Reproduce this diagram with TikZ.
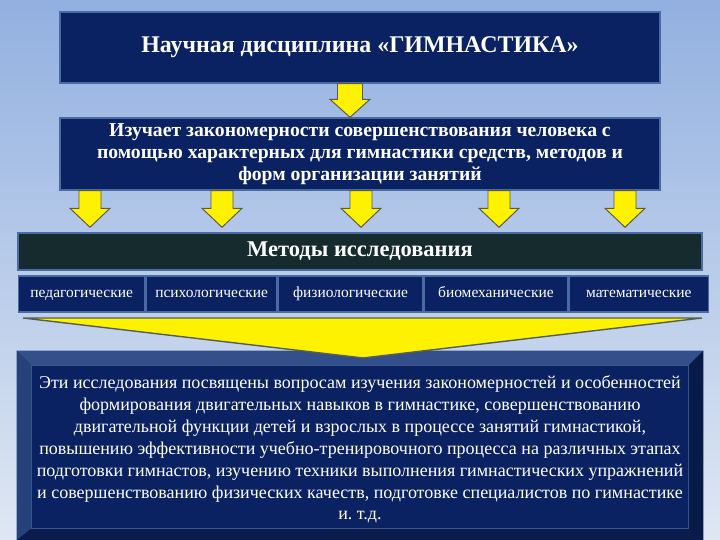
\documentclass[tikz,border=0pt]{standalone}
\usepackage{fontspec}
\setmainfont{Liberation Serif}
\usetikzlibrary{positioning,calc}
\tikzset{>=latex}

\definecolor{navy}{HTML}{0B2262}
\definecolor{rim}{HTML}{4A6AA2}
\definecolor{darkteal}{HTML}{152B2E}
\definecolor{bgtop}{HTML}{92B0E0}
\definecolor{bgbot}{HTML}{DFE7F3}
\definecolor{arrowrim}{HTML}{5A5A48}
\definecolor{bevtop}{HTML}{34508A}
\definecolor{bevleft}{HTML}{26427A}
\definecolor{bevright}{HTML}{081A47}
\definecolor{bevbot}{HTML}{0A1B4C}

\tikzset{
  box/.style={draw=rim, line width=1pt, fill=navy, text=white, inner sep=0pt, align=center},
  method/.style={box, minimum height=0.9cm, text height=1.5ex, text depth=0.3ex, font=\fontsize{11}{13}\selectfont},
  yarrow/.style={fill=yellow, draw=arrowrim, line width=0.7pt, line join=miter},
}

% block arrow: #1 tail, #2 tip, #3 shaft half width, #4 head half width, #5 head length
\newcommand{\blockarrow}[5]{%
  \path[yarrow] let \p1=(#1), \p2=(#2) in
    ({\x1-#3},\y1) -- ({\x1-#3},{\y2+#5}) -- ({\x1-#4},{\y2+#5}) -- (\x1,\y2)
    -- ({\x1+#4},{\y2+#5}) -- ({\x1+#3},{\y2+#5}) -- ({\x1+#3},\y1) -- cycle;}

\begin{document}
\begin{tikzpicture}
\fill[top color=bgtop, bottom color=bgbot] (0,0) rectangle (18,13.5);
\useasboundingbox (0,0) rectangle (18,13.5);

\node[box, minimum width=15cm, minimum height=1.775cm, font=\bfseries\fontsize{17}{20}\selectfont] (title) at (9,12.3125) {Научная дисциплина «ГИМНАСТИКА»};
\node[box, minimum width=15cm, minimum height=1.8cm, font=\bfseries\fontsize{14}{15.6}\selectfont] (study) at (9,9.65) {Изучает закономерности совершенствования человека с\\помощью характерных для гимнастики средств, методов и\\форм организации занятий};
\node[box, fill=darkteal, minimum width=17.1cm, minimum height=0.925cm, font=\bfseries\fontsize{16}{18}\selectfont] (methods) at (9,7.2125) {Методы исследования};

\node[method, minimum width=3.15cm, anchor=west] (m1) at (0.45,6.15) {педагогические};
\node[method, minimum width=3.275cm, right=0pt of m1] (m2) {психологические};
\node[method, minimum width=3.6cm, right=0pt of m2] (m3) {физиологические};
\node[method, minimum width=3.6cm, right=0pt of m3] (m4) {биомеханические};
\node[method, minimum width=3.475cm, right=0pt of m4] (m5) {математические};

\coordinate (a0) at (8.75,0);
\blockarrow{a0 |- title.south}{a0 |- study.north}{0.3125cm}{0.5cm}{0.45cm}
\foreach \x [count=\i] in {2.25,5.55,9.025,12.475,15.625} {
  \coordinate (a\i) at (\x,0);
  \blockarrow{a\i |- study.south}{$(a\i |- methods.north)+(0,0.125)$}{0.275cm}{0.5cm}{0.475cm}
}

% bevelled frame
\node[fill=navy, minimum width=17.15cm, minimum height=4.725cm, inner sep=0pt] (info) at (9,2.3625) {};
\coordinate (iNW) at ($(info.north west)+(0.375,-0.375)$);
\coordinate (iNE) at ($(info.north east)+(-0.375,-0.375)$);
\coordinate (iSW) at ($(info.south west)+(0.375,0.3)$);
\coordinate (iSE) at ($(info.south east)+(-0.375,0.3)$);
\fill[bevtop] (info.north west) -- (info.north east) -- (iNE) -- (iNW) -- cycle;
\fill[bevleft] (info.north west) -- (iNW) -- (iSW) -- (info.south west) -- cycle;
\fill[bevright] (info.north east) -- (info.south east) -- (iSE) -- (iNE) -- cycle;
\fill[bevbot] (info.south west) -- (iSW) -- (iSE) -- (info.south east) -- cycle;
\draw[rim!70!navy, line width=0.6pt] (iNW) rectangle (iSE);

\fill[yellow, draw=arrowrim!80!rim, line width=1pt] (0.575,5.55) -- (17.55,5.55) -- (9.075,4.55) -- cycle;

\node[text=white, align=center, font=\fontsize{12.8}{15.6}\selectfont\frenchspacing] (infotext) at (9,2.2625) {Эти исследования посвящены вопросам изучения закономерностей и особенностей\\формирования двигательных навыков в гимнастике, совершенствованию\\двигательной функции детей и взрослых в процессе занятий гимнастикой,\\повышению эффективности учебно-тренировочного процесса на различных этапах\\подготовки гимнастов, изучению техники выполнения гимнастических упражнений\\и совершенствованию физических качеств, подготовке специалистов по гимнастике\\и. т.д.};
\end{tikzpicture}
\end{document}
